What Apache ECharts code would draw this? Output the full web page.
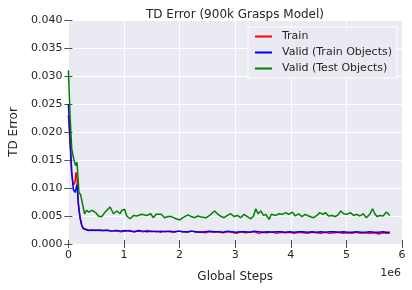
<!DOCTYPE html>
<html>
<head>
<meta charset="utf-8">
<script src="https://cdn.jsdelivr.net/npm/echarts@6/dist/echarts.min.js"></script>
<style>
html,body{margin:0;padding:0;background:#fff;}
#c{width:412px;height:290px;}
</style>
</head>
<body>
<div id="c"></div>
<script>
// x values in units of 1e6 global steps
var titleText = 'TD Error (900k Grasps Model)';
var seriesNames = ['Train', 'Valid (Train Objects)', 'Valid (Test Objects)'];
var xTicks = [0, 1, 2, 3, 4, 5, 6];
var yTicks = [0, 0.005, 0.01, 0.015, 0.02, 0.025, 0.03, 0.035, 0.04];

var trainX = [0,0.03,0.06,0.09,0.12,0.135,0.155,0.18,0.21,0.24,0.27,0.30,0.36,0.42,0.48,0.55,0.62,0.70,0.78,0.86,0.94,1.02,1.10,1.18,1.26,1.34,1.42,1.50,1.58,1.66,1.74,1.82,1.90,1.98,2.06,2.14,2.22,2.30,2.38,2.46,2.54,2.62,2.70,2.78,2.86,2.94,3.02,3.10,3.18,3.26,3.34,3.42,3.50,3.58,3.66,3.74,3.82,3.90,3.98,4.06,4.14,4.22,4.30,4.38,4.46,4.54,4.62,4.70,4.78,4.86,4.94,5.02,5.10,5.18,5.26,5.34,5.42,5.50,5.58,5.66,5.72,5.78];
var trainY = [0.0230,0.0180,0.0125,0.0105,0.0110,0.0128,0.0118,0.0072,0.0048,0.0034,0.0028,0.0025,0.0025,0.0024,0.0025,0.0024,0.0024,0.0025,0.0023,0.0024,0.0022,0.0023,0.0024,0.0022,0.0023,0.0022,0.0024,0.0022,0.0023,0.0021,0.0023,0.0022,0.0021,0.0023,0.0022,0.0021,0.0023,0.0021,0.0022,0.0020,0.0022,0.0021,0.0022,0.0020,0.0022,0.0021,0.0019,0.0022,0.0020,0.0021,0.0022,0.0019,0.0021,0.0020,0.0022,0.0019,0.0021,0.0020,0.0021,0.0019,0.0021,0.0020,0.0019,0.0021,0.0020,0.0019,0.0021,0.0019,0.0020,0.0021,0.0019,0.0020,0.0019,0.0021,0.0019,0.0020,0.0019,0.0020,0.0018,0.0020,0.0019,0.0019];

var validTrainX = [0,0.03,0.06,0.09,0.12,0.135,0.155,0.18,0.21,0.24,0.27,0.30,0.36,0.42,0.48,0.55,0.62,0.70,0.78,0.86,0.94,1.02,1.10,1.18,1.26,1.34,1.42,1.50,1.58,1.66,1.74,1.82,1.90,1.98,2.06,2.14,2.22,2.30,2.38,2.46,2.54,2.62,2.70,2.78,2.86,2.94,3.02,3.10,3.18,3.26,3.34,3.42,3.50,3.58,3.66,3.74,3.82,3.90,3.98,4.06,4.14,4.22,4.30,4.38,4.46,4.54,4.62,4.70,4.78,4.86,4.94,5.02,5.10,5.18,5.26,5.34,5.42,5.50,5.58,5.66,5.72,5.78];
var validTrainY = [0.0250,0.0190,0.0128,0.0097,0.0092,0.0093,0.0106,0.0070,0.0046,0.0033,0.0027,0.0025,0.0024,0.0025,0.0024,0.0025,0.0024,0.0024,0.0023,0.0024,0.0023,0.0024,0.0023,0.0022,0.0024,0.0023,0.0022,0.0023,0.0022,0.0023,0.0022,0.0023,0.0022,0.0023,0.0022,0.0022,0.0023,0.0022,0.0021,0.0022,0.0023,0.0022,0.0022,0.0021,0.0023,0.0022,0.0021,0.0022,0.0022,0.0021,0.0023,0.0022,0.0021,0.0022,0.0021,0.0022,0.0022,0.0021,0.0022,0.0021,0.0022,0.0022,0.0021,0.0022,0.0021,0.0022,0.0021,0.0022,0.0022,0.0021,0.0022,0.0021,0.0021,0.0022,0.0021,0.0021,0.0022,0.0021,0.0021,0.0022,0.0021,0.0021];

var validTestX = [0,0.03,0.06,0.10,0.13,0.155,0.19,0.22,0.245,0.29,0.33,0.37,0.42,0.46,0.50,0.55,0.60,0.66,0.75,0.81,0.87,0.93,0.96,1.01,1.05,1.11,1.17,1.23,1.32,1.41,1.48,1.525,1.58,1.67,1.73,1.79,1.85,1.94,2.00,2.06,2.15,2.21,2.27,2.33,2.39,2.48,2.54,2.57,2.63,2.69,2.75,2.80,2.86,2.92,2.98,3.04,3.10,3.16,3.22,3.28,3.33,3.37,3.41,3.46,3.51,3.55,3.61,3.65,3.73,3.79,3.85,3.91,3.96,4.03,4.08,4.14,4.20,4.26,4.32,4.35,4.41,4.47,4.52,4.58,4.62,4.68,4.74,4.80,4.86,4.90,4.95,5.01,5.07,5.13,5.19,5.24,5.30,5.36,5.42,5.47,5.51,5.55,5.60,5.66,5.72,5.78];
var validTestY = [0.0310,0.0230,0.0170,0.0150,0.0140,0.0146,0.0092,0.0088,0.0089,0.0054,0.0060,0.0057,0.0060,0.0058,0.0055,0.0049,0.0049,0.0057,0.0066,0.0054,0.0059,0.0054,0.0060,0.0062,0.0050,0.0045,0.0051,0.0050,0.0053,0.0051,0.0054,0.0047,0.0053,0.0053,0.0047,0.0049,0.0049,0.0045,0.0043,0.0047,0.0052,0.0049,0.0047,0.0050,0.0048,0.0047,0.0051,0.0053,0.0059,0.0053,0.0049,0.0047,0.0051,0.0054,0.0049,0.0051,0.0047,0.0053,0.0049,0.0045,0.0050,0.0063,0.0054,0.0059,0.0051,0.0053,0.0044,0.0053,0.0051,0.0054,0.0053,0.0056,0.0053,0.0057,0.0050,0.0054,0.0049,0.0053,0.0050,0.0049,0.0047,0.0051,0.0056,0.0053,0.0056,0.0050,0.0051,0.0049,0.0053,0.0059,0.0054,0.0053,0.0056,0.0051,0.0053,0.0050,0.0054,0.0047,0.0053,0.0063,0.0054,0.0049,0.0051,0.0050,0.0057,0.0051];

function zip(xs, ys){ var o=[]; for (var i=0;i<xs.length;i++) o.push([xs[i], ys[i]]); return o; }

var FONT = 'DejaVu Sans';
var TXT = '#262626';
var chart = echarts.init(document.getElementById('c'), null, {renderer:'canvas'});

var gridPos = {left:67, right:10, top:20, bottom:46};
var tickStyle = {show:true, length:4, inside:false, lineStyle:{color:'#4d4d4d', width:1}};

var option = {
  animation:false,
  backgroundColor:'#ffffff',
  title:{text:titleText, left:230, textAlign:'center', top:4,
    textStyle:{fontFamily:FONT, fontSize:12, fontWeight:'normal', color:TXT}},
  legend:{
    data:seriesNames, orient:'vertical', right:15, top:27,
    backgroundColor:'#EAEAF2', borderColor:'#ffffff', borderWidth:1, borderRadius:0,
    padding:[2,5,2,7], itemGap:1, itemWidth:17, itemHeight:2, icon:'rect',
    textStyle:{fontFamily:FONT, fontSize:11, color:TXT, padding:[0,0,0,5], lineHeight:15}
  },
  grid:gridPos,
  xAxis:[{
    type:'value', min:0, max:6, interval:1,
    name:'Global Steps', nameLocation:'middle', nameGap:27,
    nameTextStyle:{fontFamily:FONT, fontSize:12, color:TXT},
    axisLine:{show:false}, axisTick:tickStyle,
    axisLabel:{fontFamily:FONT, fontSize:11, color:TXT, margin:6},
    splitLine:{show:true, lineStyle:{color:'#ffffff', width:1}}
  },{
    type:'value', position:'top', min:0, max:6, interval:1,
    axisLine:{show:false}, axisTick:tickStyle, axisLabel:{show:false}, splitLine:{show:false}
  }],
  yAxis:[{
    type:'value', min:0, max:0.04, interval:0.005,
    name:'TD Error', nameLocation:'middle', nameGap:48, nameRotate:90,
    nameTextStyle:{fontFamily:FONT, fontSize:12, color:TXT},
    axisLine:{show:false}, axisTick:tickStyle,
    axisLabel:{fontFamily:FONT, fontSize:11, color:TXT, margin:6, formatter:function(v){return v.toFixed(3);}},
    splitLine:{show:true, lineStyle:{color:'#ffffff', width:1}},
    splitArea:{show:true, areaStyle:{color:['#EAEAF2','#EAEAF2']}}
  },{
    type:'value', position:'right', min:0, max:0.04, interval:0.005,
    axisLine:{show:false}, axisTick:tickStyle, axisLabel:{show:false}, splitLine:{show:false}
  }],
  graphic:[{type:'text', right:11, top:268, style:{text:'1e6', fontFamily:FONT, fontSize:11, fill:TXT}}],
  series:[
    {name:seriesNames[0], type:'line', data:zip(trainX, trainY), showSymbol:false, symbol:'none',
      lineStyle:{color:'#ff0000', width:1.5}, itemStyle:{color:'#ff0000'}, z:2},
    {name:seriesNames[1], type:'line', data:zip(validTrainX, validTrainY), showSymbol:false, symbol:'none',
      lineStyle:{color:'#0000ff', width:1.5}, itemStyle:{color:'#0000ff'}, z:3},
    {name:seriesNames[2], type:'line', data:zip(validTestX, validTestY), showSymbol:false, symbol:'none',
      lineStyle:{color:'#008000', width:1.5}, itemStyle:{color:'#008000'}, z:4}
  ]
};
chart.setOption(option);
</script>
</body>
</html>
